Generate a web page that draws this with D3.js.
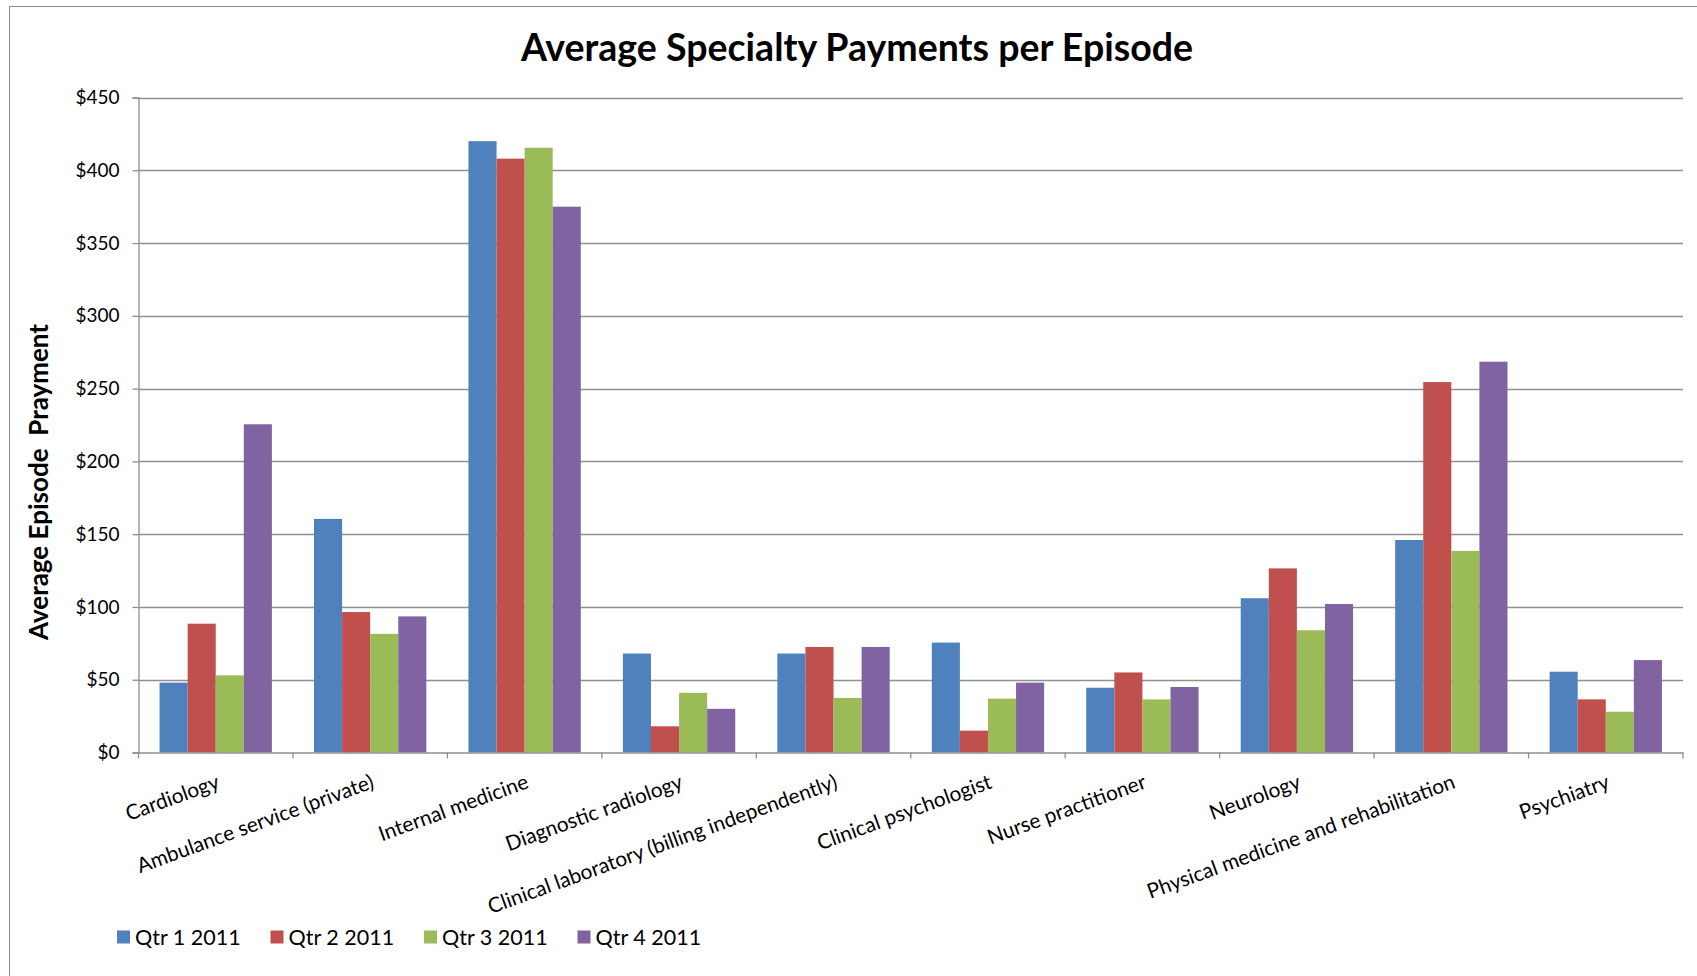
<!DOCTYPE html>
<html><head><meta charset="utf-8">
<script src="https://cdn.jsdelivr.net/npm/d3@7"></script>
<style>
html,body{margin:0;padding:0;background:#fff;}
svg{display:block;font-family:Lato,"Open Sans",sans-serif;}
</style></head>
<body>
<svg id="chart" width="1697" height="976"></svg>
<script>
const categories = ["Cardiology","Ambulance service (private)","Internal medicine","Diagnostic radiology","Clinical laboratory (billing independently)","Clinical psychologist","Nurse practitioner","Neurology","Physical medicine and rehabilitation","Psychiatry"];
const seriesNames = ["Qtr 1 2011","Qtr 2 2011","Qtr 3 2011","Qtr 4 2011"];
const q1 = [48, 160.5, 420, 68, 68, 75.5, 44.5, 106, 146, 55.5];
const q2 = [88.5, 96.5, 408, 18, 72.5, 15, 55, 126.5, 254.5, 36.5];
const q3 = [53, 81.5, 415.5, 41, 37.5, 37, 36.5, 84, 138.5, 28];
const q4 = [225.5, 93.5, 375, 30, 72.5, 48, 45, 102, 268.5, 63.5];
const yTicks = [0,50,100,150,200,250,300,350,400,450];
const colors = ["#4F81BD","#C0504D","#9BBB59","#8064A2"];
const values = [q1,q2,q3,q4];

const svg = d3.select("#chart");
const pLeft = 138.5, pRight = 1683, pTop = 97.5, pBottom = 752.5;

// outer frame
svg.append("rect").attr("x",9.5).attr("y",6.5).attr("width",1697).attr("height",1000)
  .attr("fill","none").attr("stroke","#8c8c8c").attr("stroke-width",1);

const x = d3.scaleBand().domain(categories).range([pLeft,pRight]).paddingInner(0.2727).paddingOuter(0.13636);
const x0 = d3.scaleBand().domain(categories).range([pLeft,pRight]);
const xs = d3.scaleBand().domain(seriesNames).range([0,x.bandwidth()]);
const y = d3.scaleLinear().domain([0,450]).range([pBottom,pTop]);

// gridlines
svg.append("g").selectAll("line").data(yTicks.filter(d=>d>0)).join("line")
  .attr("x1",pLeft).attr("x2",pRight).attr("y1",d=>Math.round(y(d))+0.5).attr("y2",d=>Math.round(y(d))+0.5)
  .attr("stroke","#8f8f8f").attr("stroke-width",1.3);

// bars
seriesNames.forEach((s,si)=>{
  svg.append("g").selectAll("rect").data(categories).join("rect")
    .attr("x",(c)=>x(c)+xs(s))
    .attr("width",xs.bandwidth())
    .attr("y",(c,i)=>y(values[si][i]))
    .attr("height",(c,i)=>pBottom-y(values[si][i]))
    .attr("fill",colors[si]);
});

// y axis
const yAxis = d3.axisLeft(y).tickValues(yTicks).tickFormat(d=>"$"+d).tickSize(6).tickPadding(13);
const gy = svg.append("g").attr("transform",`translate(${pLeft},0)`).call(yAxis);
gy.select(".domain").attr("stroke","#8f8f8f").attr("stroke-width",1.3);
gy.selectAll(".tick line").attr("stroke","#8f8f8f").attr("stroke-width",1.3);
gy.selectAll(".tick text").attr("font-family","Lato").attr("font-size",19).attr("fill","#000");

// x axis
const xAxis = d3.axisBottom(x0).tickValues([]).tickSize(0);
const gx = svg.append("g").attr("transform",`translate(0,${pBottom})`).call(xAxis);
gx.select(".domain").attr("stroke","#8f8f8f").attr("stroke-width",1.3);
const bounds = categories.map((c)=>x0(c)).concat([pRight]);
gx.selectAll("line.sep").data(bounds).join("line").attr("class","sep")
  .attr("x1",d=>d).attr("x2",d=>d).attr("y1",0).attr("y2",6)
  .attr("stroke","#8f8f8f").attr("stroke-width",1.3);

svg.append("g").selectAll("text").data(categories).join("text")
  .attr("transform",c=>`translate(${x0(c)+x0.bandwidth()/2},${pBottom+21}) rotate(-20)`)
  .attr("text-anchor","end").attr("dy","0.72em")
  .attr("font-size",20.8).attr("fill","#000").text(c=>c);

// title
svg.append("text").attr("x",857).attr("y",61).attr("text-anchor","middle")
  .attr("font-weight","bold").attr("font-size",37.5).attr("fill","#000")
  .text("Average Specialty Payments per Episode");

// y title
svg.append("text").attr("transform",`translate(48,482) rotate(-90)`).attr("text-anchor","middle")
  .attr("font-weight","bold").attr("font-size",26).attr("fill","#000")
  .style("white-space","pre")
  .text("Average Episode  Prayment");

// legend
const lg = svg.append("g").attr("transform","translate(117,937)");
const items = lg.selectAll("g").data(seriesNames).join("g")
  .attr("transform",(d,i)=>`translate(${i*153.5},0)`);
items.append("rect").attr("x",0).attr("y",-6.5).attr("width",13).attr("height",13)
  .attr("fill",(d,i)=>colors[i]);
items.append("text").attr("x",18).attr("y",0).attr("dy","0.35em")
  .attr("font-size",21.5).attr("fill","#000").text(d=>d);
</script>
</body></html>
